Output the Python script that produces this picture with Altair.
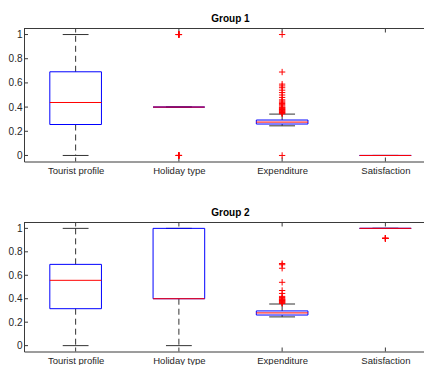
import altair as alt
import pandas as pd

# ---------------- data ----------------
categories = ["Tourist profile", "Holiday type", "Expenditure", "Satisfaction"]
group_titles = ["Group 1", "Group 2"]
y_tick_values = [0, 0.2, 0.4, 0.6, 0.8, 1.0]

g1_q1 = [0.256, 0.40, 0.260, 0.0]
g1_median = [0.438, 0.40, 0.276, 0.0]
g1_q3 = [0.692, 0.40, 0.293, 0.0]
g1_lower = [0.0, 0.40, 0.245, 0.0]
g1_upper = [1.0, 0.40, 0.342, 0.0]
g1_outliers = [
    [],
    [0.0, 0.0, 0.0, 0.0, 0.0, 1.0, 1.0, 1.0, 1.0, 1.0],
    [1.0, 0.69, 0.59, 0.575, 0.56, 0.54, 0.52, 0.50, 0.48, 0.46, 0.45, 0.44,
     0.43, 0.42, 0.41, 0.40, 0.395, 0.39, 0.385, 0.38, 0.375, 0.37, 0.365,
     0.36, 0.355, 0.35, 0.345, 0.0],
    [],
]

g2_q1 = [0.315, 0.40, 0.261, 1.0]
g2_median = [0.557, 0.40, 0.279, 1.0]
g2_q3 = [0.693, 1.0, 0.296, 1.0]
g2_lower = [0.0, 0.0, 0.245, 1.0]
g2_upper = [1.0, 1.0, 0.355, 1.0]
g2_outliers = [
    [],
    [],
    [0.70, 0.69, 0.66, 0.54, 0.47, 0.445, 0.42, 0.41, 0.40, 0.395, 0.39,
     0.385, 0.38, 0.375, 0.37, 0.365, 0.36],
    [0.915, 0.915, 0.915, 0.915, 0.915],
]

# ---------------- styling constants ----------------
FONT = "Liberation Sans"
TXT = "#262626"
SPINE = "#3a3a3a"
HALF_BOX = 0.25
HALF_CAP = 0.125
WIDTH = 413
X_DOMAIN = [0.5, 4.5]
Y_DOMAIN = [-0.05, 1.05]

label_expr = "[" + ",".join("'%s'" % c for c in categories) + "][datum.value - 1]"

X_SCALE = alt.Scale(domain=X_DOMAIN, nice=False, zero=False)
Y_SCALE = alt.Scale(domain=Y_DOMAIN, nice=False, zero=False)

AX_X = alt.Axis(values=[1, 2, 3, 4], labelExpr=label_expr, title=None,
                grid=False, domain=True, domainColor=SPINE, domainWidth=1,
                ticks=False, tickSize=0, labelPadding=4, labelFont=FONT,
                labelFontSize=9.5, labelColor=TXT)
AX_Y = alt.Axis(values=y_tick_values, format="~g", title=None, grid=False,
                domain=True, domainColor=SPINE, domainWidth=1, ticks=False,
                tickSize=0, labelPadding=2, labelFont=FONT, labelFontSize=10,
                labelColor=TXT)


def xe(field):
    return alt.X(field + ":Q", scale=X_SCALE, axis=AX_X)


def ye(field):
    return alt.Y(field + ":Q", scale=Y_SCALE, axis=AX_Y)


def panel(title, q1, med, q3, lo, hi, outs, height):
    pos = [i + 1 for i in range(len(categories))]
    stats = pd.DataFrame({
        "pos": pos, "q1": q1, "med": med, "q3": q3, "lo": lo, "hi": hi,
    })
    stats["xl"] = stats["pos"] - HALF_BOX
    stats["xr"] = stats["pos"] + HALF_BOX
    stats["cl"] = stats["pos"] - HALF_CAP
    stats["cr"] = stats["pos"] + HALF_CAP

    whisk = pd.concat([
        pd.DataFrame({"pos": pos, "a": q3, "b": hi}),
        pd.DataFrame({"pos": pos, "a": q1, "b": lo}),
    ], ignore_index=True)
    caps = pd.concat([
        pd.DataFrame({"cl": stats["cl"], "cr": stats["cr"], "v": hi}),
        pd.DataFrame({"cl": stats["cl"], "cr": stats["cr"], "v": lo}),
    ], ignore_index=True)
    out_rows = [{"pos": i + 1, "v": v} for i, lst in enumerate(outs) for v in lst]
    outdf = pd.DataFrame(out_rows)
    yt = pd.DataFrame({"v": y_tick_values})
    xt = pd.DataFrame({"pos": pos})
    border = pd.DataFrame({"a": [X_DOMAIN[0]], "b": [X_DOMAIN[1]]})

    topline = alt.Chart(border).mark_rule(color=SPINE, strokeWidth=1).encode(
        x=xe("a"), x2="b:Q", y=alt.value(0))
    ytl = alt.Chart(yt).mark_rule(color=SPINE, strokeWidth=1).encode(
        y=ye("v"), x=alt.value(0), x2=alt.value(4))
    xtt = alt.Chart(xt).mark_rule(color=SPINE, strokeWidth=1).encode(
        x=xe("pos"), y=alt.value(0), y2=alt.value(4))
    xtb = alt.Chart(xt).mark_rule(color=SPINE, strokeWidth=1).encode(
        x=xe("pos"), y=alt.value(height - 4), y2=alt.value(height))

    whiskers = alt.Chart(whisk).mark_rule(
        color="#333333", strokeWidth=1, strokeDash=[6, 4]
    ).encode(x=xe("pos"), y=ye("a"), y2="b:Q")

    capl = alt.Chart(caps).mark_rule(color="#333333", strokeWidth=1).encode(
        x=xe("cl"), x2="cr:Q", y=ye("v"))

    boxes = alt.Chart(stats).mark_rect(
        fill=None, fillOpacity=0, stroke="#0000ff", strokeWidth=1
    ).encode(x=xe("xl"), x2="xr:Q", y=ye("q1"), y2="q3:Q")

    medians = alt.Chart(stats).mark_rule(color="#ff0000", strokeWidth=1).encode(
        x=xe("xl"), x2="xr:Q", y=ye("med"))

    points = alt.Chart(outdf).mark_point(
        shape="M-1,0L1,0M0,-1L0,1", filled=False, color="#ff0000",
        strokeWidth=1, size=40, opacity=1
    ).encode(x=xe("pos"), y=ye("v"))

    return alt.layer(ytl, topline, xtt, xtb, whiskers, capl, boxes, medians,
                     points).properties(
        width=WIDTH, height=height,
        title=alt.TitleParams(title, font=FONT, fontSize=10, fontWeight="bold",
                              color="#000000", anchor="middle", frame="group",
                              baseline="alphabetic", offset=-4),
    )


p1 = panel(group_titles[0], g1_q1, g1_median, g1_q3, g1_lower, g1_upper, g1_outliers, 133)
p2 = panel(group_titles[1], g2_q1, g2_median, g2_q3, g2_lower, g2_upper, g2_outliers, 129)

chart = alt.vconcat(p1, p2, spacing=61, bounds="flush").properties(
    padding={"left": 0, "top": 5.5, "right": -14, "bottom": 0},
    background="#ffffff",
).configure_view(stroke=None)

chart.save("out.html", embed_options={"renderer": "svg", "actions": False})
